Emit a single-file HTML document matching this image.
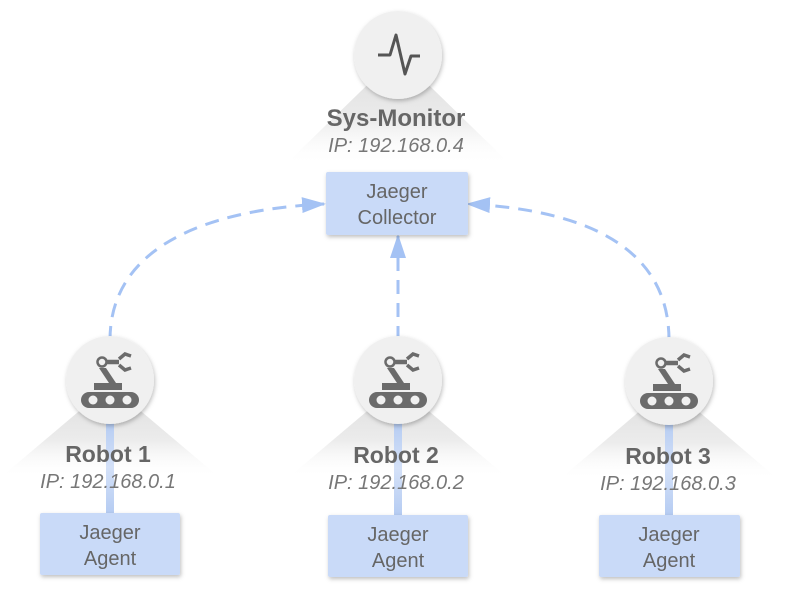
<!DOCTYPE html>
<html><head><style>
body{margin:0;background:#fff;width:790px;height:593px;overflow:hidden;font-family:"Liberation Sans",sans-serif}
</style></head><body>
<svg width="790" height="593" viewBox="0 0 790 593" xmlns="http://www.w3.org/2000/svg">
<defs>
<linearGradient id="tg" x1="0" y1="0" x2="0" y2="1">
<stop offset="0" stop-color="#dcdcdc"/><stop offset="0.6" stop-color="#ececec"/><stop offset="1" stop-color="#ffffff" stop-opacity="0"/></linearGradient>
<linearGradient id="vl" x1="0" y1="0" x2="0" y2="1">
<stop offset="0" stop-color="#b4cbf2"/><stop offset="0.5" stop-color="#d4e1f8"/><stop offset="1" stop-color="#b4cbf2"/></linearGradient>
<filter id="sh" x="-30%" y="-30%" width="160%" height="160%"><feDropShadow dx="1" dy="2" stdDeviation="2" flood-color="#000" flood-opacity="0.25"/></filter>
<marker id="a2" viewBox="0 0 24 16" markerWidth="24" markerHeight="16" refX="22" refY="8" orient="auto" markerUnits="userSpaceOnUse"><path d="M0,0 L24,8 L0,16z" fill="#a4c2f4"/></marker>
<g id="robot">
<circle cx="0" cy="0" r="44" fill="#f0f0f0" filter="url(#sh)"/>
<g fill="#6b6b6b" stroke="#6b6b6b">
<circle cx="-8" cy="-18" r="4.5" fill="none" stroke-width="2.5"/>
<path d="M-3,-18 L9,-18" stroke-width="4.5"/>
<path d="M9,-21 L15,-26 L21,-24 M9,-15 L15,-10 L21,-12" fill="none" stroke-width="3.5"/>
<path d="M-11,-12 L-4,-12 L8,6 L1,6z" stroke="none"/>
<rect x="-16" y="3" width="28" height="7" stroke="none"/>
<rect x="-29" y="12" width="58" height="16" rx="8" stroke="none"/>
</g>
<g fill="#f0f0f0"><circle cx="-17" cy="20" r="4.5"/><circle cx="0" cy="20" r="4.5"/><circle cx="17" cy="20" r="4.5"/></g>
</g>
</defs>
<polygon points="398,55 285,165 511,165" fill="url(#tg)"/>
<polygon points="110,385 0,478 220,478" fill="url(#tg)"/>
<polygon points="398,385 288,478 508,478" fill="url(#tg)"/>
<polygon points="669,386 559,480 779,480" fill="url(#tg)"/>
<rect x="106" y="420" width="8" height="95" fill="url(#vl)"/>
<rect x="394" y="420" width="8" height="97" fill="url(#vl)"/>
<rect x="665" y="420" width="8" height="97" fill="url(#vl)"/>
<g fill="none" stroke="#a4c2f4" stroke-width="3" stroke-dasharray="14,9">
<path d="M110,340 C110,250 200,210 324,204" marker-end="url(#a2)"/>
<path d="M398,340 L398,236" marker-end="url(#a2)"/>
<path d="M669,340 C669,250 590,210 468,204" marker-end="url(#a2)"/>
</g>
<circle cx="398" cy="55" r="44" fill="#f0f0f0" filter="url(#sh)"/>
<path d="M378,55 L390,55 L396,35 L405,74 L411,56 L420,56" fill="none" stroke="#555" stroke-width="3" stroke-linejoin="round"/>
<text x="396" y="126" text-anchor="middle" font-size="24" font-weight="bold" fill="#666">Sys-Monitor</text>
<text x="396" y="152" text-anchor="middle" font-size="20" font-style="italic" fill="#777">IP: 192.168.0.4</text>
<rect x="326" y="172" width="142" height="63" rx="2" fill="#c9daf8" filter="url(#sh)"/>
<text x="397" y="198" text-anchor="middle" font-size="20" fill="#666">Jaeger</text>
<text x="397" y="224" text-anchor="middle" font-size="20" fill="#666">Collector</text>
<use href="#robot" x="110" y="380"/>
<use href="#robot" x="398" y="380"/>
<use href="#robot" x="669" y="381"/>
<g font-size="23" font-weight="bold" fill="#666" text-anchor="middle">
<text x="108" y="462">Robot 1</text><text x="396" y="463">Robot 2</text><text x="668" y="464">Robot 3</text></g>
<g font-size="20" font-style="italic" fill="#777" text-anchor="middle">
<text x="108" y="488">IP: 192.168.0.1</text><text x="396" y="489">IP: 192.168.0.2</text><text x="668" y="490">IP: 192.168.0.3</text></g>
<g fill="#c9daf8" filter="url(#sh)">
<rect x="40" y="513" width="140" height="62" rx="2"/><rect x="328" y="515" width="140" height="62" rx="2"/><rect x="599" y="515" width="141" height="62" rx="2"/></g>
<g font-size="20" fill="#666" text-anchor="middle">
<text x="110" y="539">Jaeger</text><text x="110" y="565">Agent</text>
<text x="398" y="541">Jaeger</text><text x="398" y="567">Agent</text>
<text x="669" y="541">Jaeger</text><text x="669" y="567">Agent</text></g>
</svg>
</body></html>
